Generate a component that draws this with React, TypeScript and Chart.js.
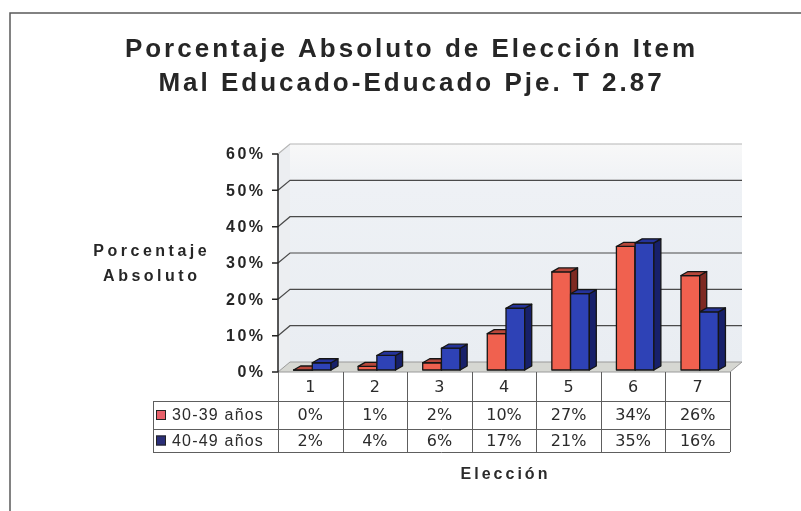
import React, { useEffect, useRef } from 'react';
import { Chart, registerables } from 'chart.js';
Chart.register(...registerables);

const titleLines = ['Porcentaje Absoluto de Elección Item', 'Mal Educado-Educado Pje. T 2.87'];
const yTitleLines = ['Porcentaje', 'Absoluto'];
const xTitle = 'Elección';
const categories = ['1', '2', '3', '4', '5', '6', '7'];
const seriesNames = ['30-39 años', '40-49 años'];
const group3039 = [0, 1, 2, 10, 27, 34, 26];
const group4049 = [2, 4, 6, 17, 21, 35, 16];
const yTicks = [0, 10, 20, 30, 40, 50, 60];

const FRONT = ['#F0614F', '#2E42B6'];
const TOP = ['#B8473A', '#25339A'];
const SIDE = ['#7E2A22', '#17206A'];
const SANS = '"Liberation Sans", Arial, sans-serif';

function spaced(ctx: CanvasRenderingContext2D, text: string, x: number, y: number, sp: number, align: 'left' | 'center' | 'right') {
  (ctx as any).letterSpacing = '0px';
  const n = Array.from(text).length;
  const w = ctx.measureText(text).width + sp * (n - 1);
  const left = align === 'center' ? x - w / 2 : align === 'right' ? x - w : x;
  (ctx as any).letterSpacing = sp + 'px';
  ctx.textAlign = 'left';
  ctx.fillText(text, left, y);
  (ctx as any).letterSpacing = '0px';
}

const WDX = 12, WDY = 10; // wall depth
const BDX = 7, BDY = 4; // bar depth
const SHIFT_X = 2, SHIFT_Y = -2;

const scenePlugin = {
  id: 'scene3d',
  beforeDraw(chart: any) {
    const ctx = chart.ctx as CanvasRenderingContext2D;
    ctx.save();
    ctx.fillStyle = '#ffffff';
    ctx.fillRect(0, 0, chart.width, chart.height);
    // frame
    ctx.strokeStyle = '#5a5a5a';
    ctx.lineWidth = 1.5;
    ctx.beginPath();
    ctx.moveTo(10, 511);
    ctx.lineTo(10, 13);
    ctx.lineTo(801, 13);
    ctx.stroke();
    // title
    ctx.fillStyle = '#262626';
    ctx.font = 'bold 26px ' + SANS;
    ctx.textBaseline = 'alphabetic';
    spaced(ctx, titleLines[0], 410, 57, 3, 'center');
    spaced(ctx, titleLines[1], 410, 91, 3, 'center');
    // y title
    ctx.font = 'bold 16px ' + SANS;
    spaced(ctx, yTitleLines[0], 150, 256, 3.5, 'center');
    spaced(ctx, yTitleLines[1], 150, 281, 3.5, 'center');
    ctx.restore();
  },
  beforeDatasetsDraw(chart: any) {
    const ctx = chart.ctx as CanvasRenderingContext2D;
    const { left: L, right: R, top: T, bottom: B } = chart.chartArea;
    const ys = chart.scales.y;
    ctx.save();
    // side wall
    ctx.fillStyle = '#eceef1';
    ctx.beginPath();
    ctx.moveTo(L, T); ctx.lineTo(L + WDX, T - WDY); ctx.lineTo(L + WDX, B - WDY); ctx.lineTo(L, B); ctx.closePath();
    ctx.fill();
    // back wall
    const g = ctx.createLinearGradient(0, T - WDY, 0, B - WDY);
    g.addColorStop(0, '#f8f8f8');
    g.addColorStop(0.2, '#eef1f5');
    g.addColorStop(1, '#e9edf2');
    ctx.fillStyle = g;
    ctx.fillRect(L + WDX, T - WDY, R - L, B - T);
    // floor
    ctx.fillStyle = '#d6d7d2';
    ctx.beginPath();
    ctx.moveTo(L, B); ctx.lineTo(L + WDX, B - WDY); ctx.lineTo(R + WDX, B - WDY); ctx.lineTo(R, B); ctx.closePath();
    ctx.fill();
    ctx.strokeStyle = '#9a9a9a';
    ctx.lineWidth = 1;
    ctx.stroke();
    // gridlines
    for (const v of yTicks) {
      if (v === 0) continue;
      const yy = ys.getPixelForValue(v);
      ctx.strokeStyle = v === 60 ? '#b5b5b5' : '#4a4a4a';
      ctx.lineWidth = 1.2;
      ctx.beginPath();
      ctx.moveTo(L, yy);
      ctx.lineTo(L + WDX, yy - WDY);
      ctx.lineTo(R + WDX, yy - WDY);
      ctx.stroke();
    }
    // axis
    ctx.strokeStyle = '#222';
    ctx.lineWidth = 1.5;
    ctx.beginPath();
    ctx.moveTo(L, T); ctx.lineTo(L, B);
    for (const v of yTicks) {
      const yy = ys.getPixelForValue(v);
      ctx.moveTo(L - 6, yy); ctx.lineTo(L, yy);
    }
    ctx.stroke();
    // tick labels
    ctx.fillStyle = '#262626';
    ctx.font = 'bold 16px ' + SANS;
    ctx.textBaseline = 'middle';
    for (const v of yTicks) {
      spaced(ctx, v + '%', 263, ys.getPixelForValue(v) + 1, 2.5, 'right');
    }
    ctx.restore();
  },
  beforeDatasetDraw() {
    return false;
  },
  afterDatasetsDraw(chart: any) {
    const ctx = chart.ctx as CanvasRenderingContext2D;
    ctx.save();
    ctx.strokeStyle = '#151515';
    ctx.lineWidth = 1.3;
    ctx.lineJoin = 'round';
    const metas = [chart.getDatasetMeta(0), chart.getDatasetMeta(1)];
    for (let i = 0; i < categories.length; i++) {
      metas.forEach((meta: any, d: number) => {
        const el = meta.data[i];
        const { x, y, base, width } = el.getProps(['x', 'y', 'base', 'width'], true);
        const l = x - width / 2 + SHIFT_X;
        const r = x + width / 2 + SHIFT_X;
        const t = y + SHIFT_Y;
        const b = base + SHIFT_Y;
        // front
        ctx.fillStyle = FRONT[d];
        ctx.beginPath();
        ctx.rect(l, t, r - l, b - t);
        ctx.fill();
        ctx.stroke();
        // side
        ctx.fillStyle = SIDE[d];
        ctx.beginPath();
        ctx.moveTo(r, t); ctx.lineTo(r + BDX, t - BDY); ctx.lineTo(r + BDX, b - BDY); ctx.lineTo(r, b); ctx.closePath();
        ctx.fill();
        ctx.stroke();
        // top
        ctx.fillStyle = TOP[d];
        ctx.beginPath();
        ctx.moveTo(l, t); ctx.lineTo(l + BDX, t - BDY); ctx.lineTo(r + BDX, t - BDY); ctx.lineTo(r, t); ctx.closePath();
        ctx.fill();
        ctx.stroke();
      });
    }
    ctx.restore();
  },
  afterDraw(chart: any) {
    const ctx = chart.ctx as CanvasRenderingContext2D;
    const { left: L, right: R, bottom: B } = chart.chartArea;
    const xs = chart.scales.x;
    const rows = [B, 401, 429, 452];
    const legLeft = 153;
    ctx.save();
    ctx.strokeStyle = '#5e5e5e';
    ctx.lineWidth = 1;
    ctx.beginPath();
    for (let k = 1; k < rows.length; k++) {
      ctx.moveTo(legLeft, rows[k] + 0.5);
      ctx.lineTo(R, rows[k] + 0.5);
    }
    ctx.moveTo(legLeft + 0.5, rows[1]);
    ctx.lineTo(legLeft + 0.5, rows[3]);
    const step = (R - L) / categories.length;
    for (let k = 0; k <= categories.length; k++) {
      const xx = Math.round(L + k * step) + 0.5;
      ctx.moveTo(xx, B);
      ctx.lineTo(xx, rows[3]);
    }
    ctx.stroke();
    // category labels & values
    ctx.fillStyle = '#2b2b2b';
    ctx.font = '16px "DejaVu Sans", Verdana, sans-serif';
    ctx.textAlign = 'center';
    ctx.textBaseline = 'middle';
    const series = [group3039, group4049];
    categories.forEach((c, i) => {
      const cx = xs.getPixelForValue(i);
      ctx.fillText(c, cx, (rows[0] + rows[1]) / 2 + 1);
      ctx.fillText(series[0][i] + '%', cx, (rows[1] + rows[2]) / 2 + 1);
      ctx.fillText(series[1][i] + '%', cx, (rows[2] + rows[3]) / 2 + 1);
    });
    // legend keys
    ctx.font = '16px ' + SANS;
    for (let s = 0; s < 2; s++) {
      const cy = (rows[s + 1] + rows[s + 2]) / 2;
      ctx.fillStyle = s === 0 ? '#E8606A' : '#2A2E78';
      ctx.fillRect(156, cy - 5, 10, 10);
      ctx.strokeStyle = '#222';
      ctx.strokeRect(156.5, cy - 4.5, 9, 9);
      ctx.fillStyle = '#2b2b2b';
      spaced(ctx, seriesNames[s], 172, cy + 1, 1.2, 'left');
    }
    // x title
    ctx.font = 'bold 16px ' + SANS;
    ctx.textBaseline = 'alphabetic';
    spaced(ctx, xTitle, (L + R) / 2, 479, 3, 'center');
    ctx.restore();
  },
};

export default function App() {
  const ref = useRef<HTMLCanvasElement | null>(null);
  useEffect(() => {
    document.body.style.margin = '0';
    const canvas = ref.current;
    if (!canvas) return;
    const chart = new Chart(canvas, {
      type: 'bar',
      data: {
        labels: categories,
        datasets: [
          { label: seriesNames[0], data: group3039, backgroundColor: FRONT[0], categoryPercentage: 0.58, barPercentage: 1 },
          { label: seriesNames[1], data: group4049, backgroundColor: FRONT[1], categoryPercentage: 0.58, barPercentage: 1 },
        ],
      },
      options: {
        responsive: false,
        animation: false,
        events: [],
        layout: { padding: { left: 278, right: 71, top: 154, bottom: 139 } },
        plugins: { legend: { display: false }, tooltip: { enabled: false }, title: { display: false } },
        scales: {
          x: { display: false },
          y: { display: false, min: 0, max: 60, ticks: { stepSize: 10 } },
        },
      },
      plugins: [scenePlugin],
    });
    return () => chart.destroy();
  }, []);
  return (
    <div style={{ position: 'fixed', left: 0, top: 0, width: 801, height: 511 }}>
      <canvas ref={ref} width={801} height={511} style={{ display: 'block' }} />
    </div>
  );
}
